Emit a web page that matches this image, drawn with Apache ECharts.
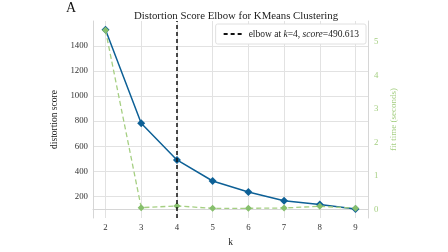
<!DOCTYPE html>
<html>
<head>
<meta charset="utf-8">
<script src="https://cdn.jsdelivr.net/npm/echarts@6/dist/echarts.min.js"></script>
<style>
  html, body { margin: 0; padding: 0; background: #fff; }
  #main { width: 448px; height: 252px; }
</style>
</head>
<body>
<div id="main"></div>
<script>
var kValues = [2, 3, 4, 5, 6, 7, 8, 9];
var distortion = [1528, 783, 490.613, 323, 235, 165, 135, 99];
var fitTime = [5.35, 0.05, 0.1, 0.03, 0.03, 0.04, 0.09, 0.03];
var scoreTicks = [200, 400, 600, 800, 1000, 1200, 1400];
var timeTicks = [0, 1, 2, 3, 4, 5];
var elbowK = 4;
var elbowScore = 490.613;

var serif = 'Liberation Serif';
var green = '#a5cf82';

function pairs(ys) {
    return kValues.map(function (k, i) { return [k, ys[i]]; });
}
function plain(v) { return String(v); }

var option = {
    animation: false,
    textStyle: { fontFamily: serif },
    title: {
        text: 'Distortion Score Elbow for KMeans Clustering',
        left: 231, textAlign: 'center', top: 6,
        textStyle: { fontFamily: serif, fontSize: 10.8, fontWeight: 'normal', color: '#222' }
    },
    graphic: [{
        type: 'text', left: 66, top: 1,
        style: { text: 'A', font: '14px "Liberation Serif"', fill: '#111' }
    }],
    legend: {
        data: ['elbow'],
        right: 82, top: 24,
        padding: [5, 7],
        itemWidth: 20, itemHeight: 8,
        itemStyle: { opacity: 0 },
        backgroundColor: '#fff',
        borderColor: '#e0e0e0', borderWidth: 1, borderRadius: 2,
        formatter: function () {
            return 'elbow at {i|k}=' + elbowK + ', {i|score}=' + elbowScore;
        },
        textStyle: {
            fontFamily: serif, fontSize: 9.5, color: '#222',
            rich: { i: { fontStyle: 'italic', fontFamily: serif, fontSize: 9.5 } }
        }
    },
    grid: { left: 93, right: 80, top: 21, bottom: 21 },
    xAxis: {
        type: 'value', min: 1.65, max: 9.35,
        name: 'k', nameLocation: 'middle', nameGap: 19,
        nameTextStyle: { fontFamily: serif, fontSize: 9.5, color: '#222' },
        axisLine: { show: true, lineStyle: { color: '#d6d6d6', width: 1 } },
        axisTick: { show: false, customValues: kValues },
        axisLabel: { customValues: kValues, formatter: plain, fontFamily: serif, fontSize: 8.8, color: '#333', margin: 5 },
        splitLine: { show: true, customValues: kValues, lineStyle: { color: '#e2e2e2', width: 1 } }
    },
    yAxis: [{
        type: 'value', min: 28, max: 1598,
        name: 'distortion score', nameLocation: 'middle', nameGap: 25,
        nameTextStyle: { fontFamily: serif, fontSize: 9.5, color: '#222' },
        axisLine: { show: true, lineStyle: { color: '#d6d6d6', width: 1 } },
        axisTick: { show: false, customValues: scoreTicks },
        axisLabel: { customValues: scoreTicks, formatter: plain, fontFamily: serif, fontSize: 8.8, color: '#333', margin: 5 },
        splitLine: { show: true, customValues: scoreTicks, lineStyle: { color: '#e2e2e2', width: 1 } }
    }, {
        type: 'value', min: -0.26, max: 5.63,
        name: 'fit time (seconds)', nameLocation: 'middle', nameGap: 14, nameRotate: 90,
        nameTextStyle: { fontFamily: serif, fontSize: 9, color: green },
        axisLine: { show: true, lineStyle: { color: '#d6d6d6', width: 1 } },
        axisTick: { show: false, customValues: timeTicks },
        axisLabel: { customValues: timeTicks, formatter: plain, fontFamily: serif, fontSize: 8.8, color: green, margin: 6 },
        splitLine: { show: false }
    }],
    series: [{
        name: 'distortion',
        type: 'line',
        data: pairs(distortion),
        symbol: 'diamond', symbolSize: 8,
        lineStyle: { color: '#0d6096', width: 1.5 },
        itemStyle: { color: '#0d6096' },
        markLine: {
            silent: true, symbol: 'none', label: { show: false },
            lineStyle: { color: '#111', type: [4, 3], width: 1.5 },
            data: [{ xAxis: elbowK }]
        }
    }, {
        name: 'elbow',
        type: 'line',
        data: [],
        symbol: 'none',
        lineStyle: { color: '#111', type: [4, 3], width: 1.5 },
        itemStyle: { color: '#111' }
    }, {
        name: 'fit time',
        type: 'line',
        yAxisIndex: 1,
        data: pairs(fitTime),
        symbol: 'diamond', symbolSize: 7,
        lineStyle: { color: green, type: [5, 3], width: 1.3 },
        itemStyle: { color: '#86bf6c' }
    }]
};

var myChart = echarts.init(document.getElementById('main'));
myChart.setOption(option);
</script>
</body>
</html>
